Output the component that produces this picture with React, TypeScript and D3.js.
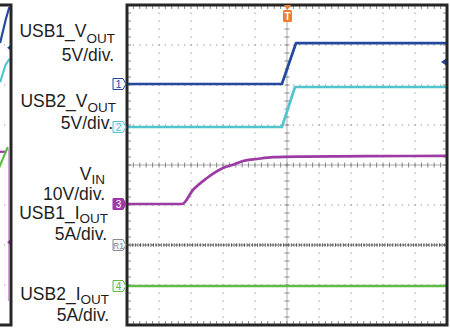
import React, { useRef, useEffect } from "react";
import * as d3 from "d3";

const W = 450;
const H = 328;

// time in divisions from the trigger point, levels in volts / amps
const ch1Time = [-5, -0.16, 0.28, 5];
const ch1Volts = [0, 0, 5.1, 5.1];
const ch2Time = [-5, -0.16, 0.25, 5];
const ch2Volts = [0, 0, 5.0, 5.0];
const ch3Time = [-5, -3.28, -2.94, -2.5, -2.0, -1.72, -1.375, -0.94, -0.44, 0.5, 2.5, 5];
const ch3Volts = [0, 0, 3.5, 6.5, 9.0, 9.75, 10.75, 11.25, 11.7, 11.85, 11.95, 12.05];
const r1Time = [-5, 5];
const r1Amps = [0, 0];
const ch4Time = [-5, 5];
const ch4Amps = [0, 0];

// ground position of each channel (divisions) and its scale per division
const channelIds = ["1", "2", "3", "R1", "4"];
const channelOffsets = [2.025, 0.95, -0.975, -2.0, -3.025];
const channelPerDiv = [5, 5, 10, 5, 5];
const channelColors = ["#234a9e", "#52c4cf", "#9c3ba3", "#2a2a2a", "#62bb46"];
const triggerLevel = 2.75; // volts on channel 1

// edge of the neighbouring capture (levels in divisions)
const leftBlueTime = [4.66, 4.84, 4.95];
const leftBlueDiv = [3.05, 3.65, 3.95];
const leftCyanTime = [4.66, 4.83, 4.95];
const leftCyanDiv = [2.07, 2.5, 2.65];
const leftPurpleTime = [4.6, 4.85];
const leftPurpleDiv = [0.33, 0.33];
const leftGreenTime = [4.62, 4.9];
const leftGreenDiv = [-0.08, 0.45];

const labelRows = [
  { main: "USB1_V", sub: "OUT", x: 115, y: 37, dy: 6 },
  { main: "5V/div.", sub: "", x: 114, y: 61, dy: 0 },
  { main: "USB2_V", sub: "OUT", x: 116, y: 107, dy: 5 },
  { main: "5V/div.", sub: "", x: 113, y: 129, dy: 0 },
  { main: "V", sub: "IN", x: 105, y: 180, dy: 3.5 },
  { main: "10V/div.", sub: "", x: 105, y: 200, dy: 0 },
  { main: "USB1_I", sub: "OUT", x: 108, y: 219, dy: 4 },
  { main: "5A/div.", sub: "", x: 107, y: 240, dy: 0 },
  { main: "USB2_I", sub: "OUT", x: 109, y: 300, dy: 4 },
  { main: "5A/div.", sub: "", x: 109, y: 321, dy: 0 },
];

const FONT = "'Liberation Sans', Arial, sans-serif";

const App = () => {
  const ref = useRef<SVGSVGElement>(null);

  useEffect(() => {
    const svg = d3.select(ref.current);
    svg.selectAll("*").remove();

    const plot = { left: 127, right: 447, top: 5, bottom: 325 };
    const x = d3.scaleLinear().domain([-5, 5]).range([plot.left, plot.right]);
    const y = d3.scaleLinear().domain([-4, 4]).range([plot.bottom, plot.top]);
    const xPrev = d3.scaleLinear().domain([-5, 5]).range([11 - 320, 11]);

    svg.append("rect").attr("width", W).attr("height", H).attr("fill", "#fff");

    const defs = svg.append("defs");
    defs.append("clipPath").attr("id", "plotclip")
      .append("rect").attr("x", plot.left).attr("y", plot.top)
      .attr("width", plot.right - plot.left).attr("height", plot.bottom - plot.top);
    defs.append("clipPath").attr("id", "prevclip")
      .append("rect").attr("x", 0).attr("y", plot.top)
      .attr("width", 11).attr("height", plot.bottom - plot.top);

    const minorX = d3.range(0, 51).map(i => -5 + i * 0.2);
    const minorY = d3.range(0, 41).map(i => -4 + i * 0.2);

    // dotted graticule
    const grid = svg.append("g").attr("fill", "#a8a8a8");
    [-4, -3, -2, -1, 1, 2, 3, 4].forEach(v => {
      minorY.forEach(m => {
        grid.append("rect").attr("x", x(v) - 0.6).attr("y", y(m) - 0.6)
          .attr("width", 1.3).attr("height", 1.3);
      });
    });
    [-3, -2, -1, 1, 2, 3].forEach(h => {
      minorX.forEach(m => {
        grid.append("rect").attr("x", x(m) - 0.6).attr("y", y(h) - 0.6)
          .attr("width", 1.3).attr("height", 1.3);
      });
    });

    // centre axes with minor ticks
    const axes = svg.append("g").attr("stroke", "#7a7a7a").attr("stroke-width", 0.9);
    axes.append("line").attr("x1", plot.left).attr("x2", plot.right)
      .attr("y1", y(0)).attr("y2", y(0)).attr("stroke-width", 0.6);
    axes.append("line").attr("y1", plot.top).attr("y2", plot.bottom)
      .attr("x1", x(0)).attr("x2", x(0)).attr("stroke-width", 0.6);
    minorX.forEach(m => {
      axes.append("line").attr("x1", x(m)).attr("x2", x(m))
        .attr("y1", y(0) - 2.5).attr("y2", y(0) + 2.5);
      axes.append("line").attr("x1", x(m)).attr("x2", x(m))
        .attr("y1", plot.top).attr("y2", plot.top + 4);
      axes.append("line").attr("x1", x(m)).attr("x2", x(m))
        .attr("y1", plot.bottom).attr("y2", plot.bottom - 4);
    });
    minorY.forEach(m => {
      axes.append("line").attr("y1", y(m)).attr("y2", y(m))
        .attr("x1", x(0) - 2.5).attr("x2", x(0) + 2.5);
      axes.append("line").attr("y1", y(m)).attr("y2", y(m))
        .attr("x1", plot.left).attr("x2", plot.left + 4);
      axes.append("line").attr("y1", y(m)).attr("y2", y(m))
        .attr("x1", plot.right).attr("x2", plot.right - 4);
    });

    const line = (sx: d3.ScaleLinear<number, number>) =>
      d3.line<[number, number]>().x(d => sx(d[0])).y(d => y(d[1]));

    // traces
    const traces = svg.append("g").attr("clip-path", "url(#plotclip)").attr("fill", "none");
    const series = [
      [ch1Time, ch1Volts], [ch2Time, ch2Volts], [ch3Time, ch3Volts],
      [r1Time, r1Amps], [ch4Time, ch4Amps],
    ];
    series.forEach(([times, vals], i) => {
      const pts = times.map((t, k) => [t, channelOffsets[i] + vals[k] / channelPerDiv[i]] as [number, number]);
      const gen = line(x);
      if (i === 2) gen.curve(d3.curveMonotoneX);
      if (channelIds[i] === "R1") {
        traces.append("path").attr("d", gen(pts)).attr("stroke", "#555")
          .attr("stroke-width", 3.4).attr("stroke-dasharray", "1 1.6").attr("opacity", 0.85);
        traces.append("path").attr("d", gen(pts)).attr("stroke", "#333")
          .attr("stroke-width", 0.8).attr("stroke-dasharray", "2.5 1.5");
      } else {
        traces.append("path").attr("d", gen(pts)).attr("stroke", channelColors[i])
          .attr("stroke-width", 2.7).attr("stroke-linejoin", "round");
      }
    });

    // trigger level arrow on the right
    const ty = y(channelOffsets[0] + triggerLevel / channelPerDiv[0]);
    svg.append("path")
      .attr("d", `M${plot.right - 6},${ty} L${plot.right - 1},${ty - 3.5} L${plot.right - 1},${ty + 3.5} Z`)
      .attr("fill", channelColors[0]);

    // frame
    svg.append("rect").attr("x", plot.left).attr("y", plot.top)
      .attr("width", plot.right - plot.left).attr("height", plot.bottom - plot.top)
      .attr("fill", "none").attr("stroke", "#262626").attr("stroke-width", 3);

    // neighbouring capture at the far left
    const prev = svg.append("g").attr("clip-path", "url(#prevclip)").attr("fill", "none");
    [-3, -2, -1, 1, 2, 3].forEach(h => {
      minorX.filter(m => m > 4.5).forEach(m => {
        prev.append("rect").attr("x", xPrev(m) - 0.6).attr("y", y(h) - 0.6)
          .attr("width", 1.2).attr("height", 1.2).attr("fill", "#aaa");
      });
    });
    prev.append("line").attr("x1", xPrev(4.92)).attr("x2", xPrev(4.92))
      .attr("y1", y(0.4)).attr("y2", y(-3.4)).attr("stroke", channelColors[2])
      .attr("stroke-width", 1).attr("opacity", 0.5);
    const prevSets = [
      [leftBlueTime, leftBlueDiv, channelColors[0]],
      [leftCyanTime, leftCyanDiv, channelColors[1]],
      [leftPurpleTime, leftPurpleDiv, channelColors[2]],
      [leftGreenTime, leftGreenDiv, channelColors[4]],
    ] as [number[], number[], string][];
    prevSets.forEach(([times, vals, col]) => {
      const pts = times.map((t, k) => [t, vals[k]] as [number, number]);
      prev.append("path").attr("d", line(xPrev)(pts)).attr("stroke", col).attr("stroke-width", 2.2);
    });
    const pm = (lvl: number, col: string) =>
      prev.append("path")
        .attr("d", `M${xPrev(4.88)},${y(lvl)} L${xPrev(4.99)},${y(lvl) - 3} L${xPrev(4.99)},${y(lvl) + 3} Z`)
        .attr("fill", col);
    pm(2.93, channelColors[0]);
    pm(-1.93, channelColors[2]);
    svg.append("path")
      .attr("d", `M0,${plot.top} L11,${plot.top} L11,${plot.bottom} L0,${plot.bottom}`)
      .attr("fill", "none").attr("stroke", "#262626").attr("stroke-width", 3);

    // channel ground markers
    const tip = plot.left - 1;
    channelIds.forEach((id, i) => {
      const cy = y(channelOffsets[i]);
      const col = id === "R1" ? "#8a8a8a" : channelColors[i];
      const filled = id === "3";
      svg.append("path")
        .attr("d", `M${tip - 13},${cy - 5.5} L${tip - 3},${cy - 5.5} L${tip},${cy} L${tip - 3},${cy + 5.5} L${tip - 13},${cy + 5.5} Z`)
        .attr("fill", filled ? col : "#f2f5fa").attr("stroke", col).attr("stroke-width", 1);
      svg.append("text").attr("x", tip - 7.5).attr("y", cy + 3.5)
        .attr("text-anchor", "middle").attr("font-family", FONT)
        .attr("font-size", id === "R1" ? 8.5 : 10).attr("fill", filled ? "#fff" : col)
        .text(id);
    });

    // trigger position marker
    const tx = x(0) + 0.5;
    svg.append("path").attr("d", `M${tx - 3.5},${plot.top} L${tx + 3.5},${plot.top} L${tx},${plot.top + 5} Z`)
      .attr("fill", "#ef7d2c");
    svg.append("rect").attr("x", tx - 4.5).attr("y", plot.top + 5).attr("width", 9).attr("height", 12)
      .attr("rx", 1.5).attr("fill", "#ef7d2c");
    svg.append("text").attr("x", tx).attr("y", plot.top + 15).attr("text-anchor", "middle")
      .attr("font-family", FONT).attr("font-size", 10).attr("font-weight", "bold")
      .attr("fill", "#fff").text("T");

    // channel labels
    labelRows.forEach(r => {
      const t = svg.append("text").attr("x", r.x).attr("y", r.y)
        .attr("text-anchor", "end").attr("font-family", FONT)
        .attr("font-size", 17.5).attr("fill", "#1e1e1e");
      t.append("tspan").text(r.main);
      if (r.sub) t.append("tspan").attr("dy", r.dy).attr("font-size", 13.5).text(r.sub);
    });
  }, []);

  return (
    <svg ref={ref} width={W} height={H}
      style={{ position: "absolute", left: 0, top: 0, display: "block" }} />
  );
};

export default App;
